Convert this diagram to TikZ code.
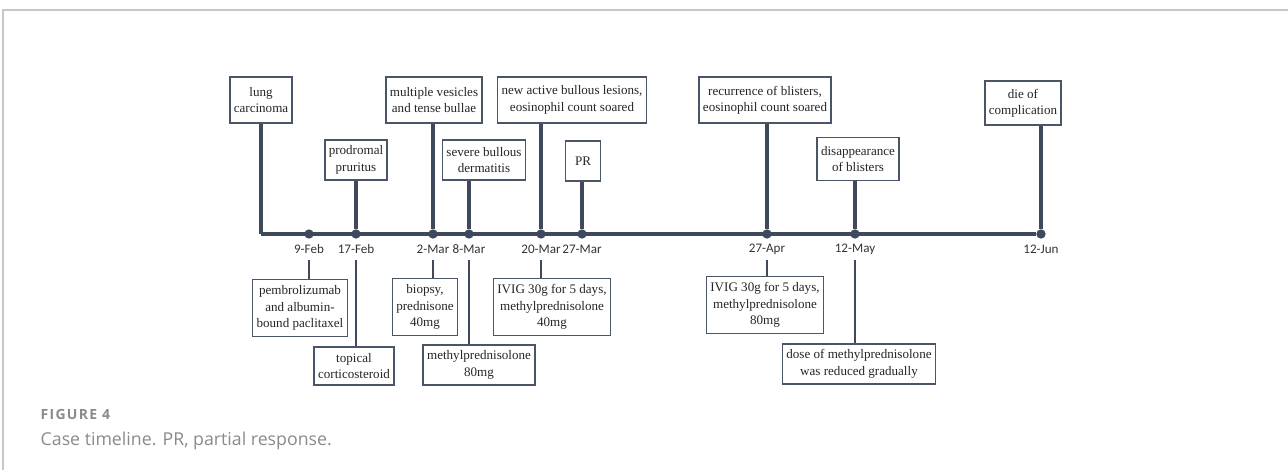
\documentclass[tikz,border=0pt]{standalone}
\usepackage{fontspec}
\setmainfont{Liberation Serif}
\newfontfamily\datefont{Carlito}
\newfontfamily\capfont{Open Sans}
\newfontfamily\figfont[LetterSpace=9]{Open Sans}
\usetikzlibrary{positioning,calc}
\definecolor{tlline}{HTML}{3E4A5C}
\definecolor{tlbox}{HTML}{4A5568}
\definecolor{capgray}{HTML}{8A8A8A}
\tikzset{
  evt/.style={draw=tlbox,line width=1.2pt,fill=white,align=center,inner xsep=3pt,
    inner ysep=4.5pt,font=\fontsize{9.8}{12.3}\selectfont,text=black!85},
  stem/.style={draw=tlline,line width=2.6pt},
  dot/.style={circle,fill=tlline,inner sep=0pt,minimum size=7pt},
  datelab/.style={font=\datefont\fontsize{9.8}{11}\selectfont,text=black!80}
}
\begin{document}
\begin{tikzpicture}[x=0.75pt,y=-0.75pt]
  \useasboundingbox (0,0) rectangle (1288,470);
  % frame
  \draw[black!22,line width=0.8pt] (3,470) -- (3,10) -- (1288,10);
  % axis with dates
  \coordinate (start) at (261,234);
  \foreach \x/\n/\t in {309/feb9/9-Feb, 356/feb17/17-Feb, 433/mar2/2-Mar,
      469/mar8/8-Mar, 541/mar20/20-Mar, 582/mar27/27-Mar, 767/apr27/27-Apr,
      855/may12/12-May, 1041/jun12/12-Jun}{
    \node[dot] (\n) at (\x,234) {};
    \node[datelab] (l\n) at (\x,249) {\t};
  }
  \draw[stem] (start) -- (jun12);
  % events above
  \node[evt,minimum height=34.5pt] (lung) at (261,100) {lung\\carcinoma};
  \node[evt,minimum height=30pt] (prodromal) at (356,160) {prodromal\\pruritus};
  \node[evt,minimum height=34.5pt] (vesicles) at (434,100) {multiple vesicles\\and tense bullae};
  \node[evt,minimum height=30pt] (severe) at (484,160) {severe bullous\\dermatitis};
  \node[evt,minimum height=34.5pt] (newlesions) at (572,100) {new active bullous lesions,\\eosinophil count soared};
  \node[evt,minimum height=30pt,minimum width=26pt] (pr) at (583,161) {PR};
  \node[evt,minimum height=34.5pt] (recurrence) at (765,100) {recurrence of blisters,\\eosinophil count soared};
  \node[evt,minimum height=32pt] (disappear) at (858,159) {disappearance\\of blisters};
  \node[evt,minimum height=33pt] (death) at (1023,103) {die of\\complication};
  \draw[stem] (lung.south) -- (start);
  \draw[stem] (prodromal.south) -- (feb17);
  \draw[stem] (vesicles.south -| mar2) -- (mar2);
  \draw[stem] (severe.south -| mar8) -- (mar8);
  \draw[stem] (newlesions.south -| mar20) -- (mar20);
  \draw[stem] (pr.south -| mar27) -- (mar27);
  \draw[stem] (recurrence.south -| apr27) -- (apr27);
  \draw[stem] (disappear.south -| may12) -- (may12);
  \draw[stem] (death.south -| jun12) -- (jun12);
  % treatments below
  \node[evt,minimum height=42.5pt] (pembro) at (300,308) {pembrolizumab\\and albumin-\\bound paclitaxel};
  \node[evt,minimum height=28.5pt] (topical) at (354,366) {topical\\corticosteroid};
  \node[evt,minimum height=42.5pt] (biopsy) at (425,307) {biopsy,\\prednisone\\40mg};
  \node[evt,minimum height=28.5pt] (mp80) at (479,365) {methylprednisolone\\80mg};
  \node[evt,minimum height=42.5pt] (ivigone) at (552,307) {IVIG 30g for 5 days,\\methylprednisolone\\40mg};
  \node[evt,minimum height=40.5pt] (ivigtwo) at (765,305) {IVIG 30g for 5 days,\\methylprednisolone\\80mg};
  \node[evt,minimum height=28.5pt] (taper) at (859,364) {dose of methylprednisolone\\was reduced gradually};
  \draw[stem,line width=1.8pt] (309,260) -- (pembro.north -| lfeb9);
  \draw[stem,line width=1.8pt] (356,260) -- (topical.north -| lfeb17);
  \draw[stem,line width=1.8pt] (433,260) -- (biopsy.north -| lmar2);
  \draw[stem,line width=1.8pt] (469,260) -- (mp80.north -| lmar8);
  \draw[stem,line width=1.8pt] (541,260) -- (ivigone.north -| lmar20);
  \draw[stem,line width=1.8pt] (767,260) -- (ivigtwo.north -| lapr27);
  \draw[stem,line width=1.8pt] (855,260) -- (taper.north -| lmay12);
  % caption
  \node[anchor=base west,font=\figfont\bfseries\fontsize{10.5}{13}\selectfont,text=capgray] (fig) at (36,419) {FIGURE 4};
  \node[anchor=base west,font=\capfont\fontsize{13.3}{15}\selectfont,text=capgray] (cap) at (36,445) {Case timeline. PR, partial response.};
\end{tikzpicture}
\end{document}
